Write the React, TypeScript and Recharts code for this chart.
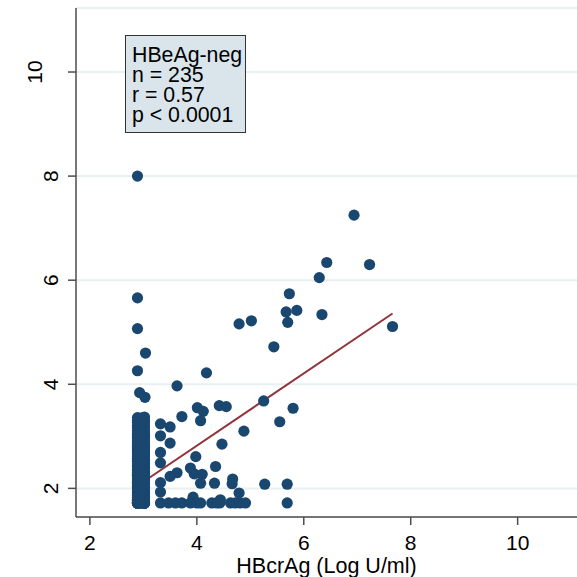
import {
  CartesianGrid,
  ReferenceLine,
  Scatter,
  ScatterChart,
  XAxis,
  YAxis,
} from 'recharts';

// HBcrAg (x) against HBsAg (y), HBeAg-negative group
const columnLow = [
  1.72, 1.72, 1.72, 1.72, 1.72, 1.72, 1.72, 1.72, 1.72, 1.72, 1.74, 1.77,
  1.79, 1.83, 1.86, 1.88, 1.92, 1.95, 1.99, 2.01, 2.04, 2.09, 2.12, 2.14,
  2.18, 2.22, 2.25, 2.27, 2.31, 2.35, 2.37, 2.42, 2.44, 2.47, 2.52, 2.55,
  2.58, 2.61, 2.64, 2.68, 2.71, 2.75, 2.78, 2.81, 2.85, 2.88, 2.91, 2.95,
  2.98, 3.02, 3.06, 3.11, 3.17, 3.21, 3.27, 3.31, 3.36,
];
const columnHigh = [
  1.72, 1.72, 1.72, 1.72, 1.72, 1.72, 1.72, 1.72, 1.72, 1.72, 1.73, 1.76,
  1.8, 1.82, 1.85, 1.89, 1.91, 1.94, 1.97, 2.02, 2.05, 2.07, 2.11, 2.15,
  2.17, 2.21, 2.24, 2.28, 2.3, 2.33, 2.38, 2.41, 2.45, 2.48, 2.51, 2.54,
  2.59, 2.62, 2.66, 2.69, 2.72, 2.74, 2.79, 2.83, 2.86, 2.9, 2.93, 2.97,
  3.0, 3.04, 3.09, 3.14, 3.19, 3.24, 3.29, 3.34, 3.37,
];
const columnMid = [
  1.72, 1.72, 1.72, 1.72, 1.78, 1.87, 1.96, 2.06, 2.19, 2.29, 2.4, 2.53,
  2.63, 2.77, 2.89, 3.03, 3.13, 3.26, 3.35,
];

const spreadX = [
  2.89, 2.89, 2.89, 3.04, 2.89, 2.93, 3.03, 4.18, 4.79, 5.02, 3.63, 4.01,
  4.12, 4.42, 4.55, 3.72, 4.07, 3.32, 3.5, 3.32, 3.5, 4.47, 3.32, 3.32,
  3.98, 4.35, 3.63, 3.5, 3.88, 3.95, 4.1, 4.07, 4.33, 3.32, 3.32, 4.67,
  4.66, 5.27, 5.69, 4.79, 3.93, 4.44, 5.25, 5.8, 5.55, 4.88, 6.94, 6.43,
  6.29, 7.23, 5.73, 5.67, 5.87, 5.7, 6.34, 5.44, 7.66, 5.69, 3.32, 3.47,
  3.6, 3.72, 3.88, 4.0, 4.07, 4.28, 4.37, 4.43, 4.63, 4.72, 4.81, 4.91,
];
const spreadY = [
  8.0, 5.66, 5.07, 4.6, 4.26, 3.84, 3.75, 4.22, 5.16, 5.22, 3.97, 3.55,
  3.48, 3.59, 3.57, 3.38, 3.3, 3.24, 3.18, 3.01, 2.87, 2.85, 2.69, 2.49,
  2.61, 2.42, 2.3, 2.23, 2.39, 2.28, 2.27, 2.1, 2.1, 2.11, 1.93, 2.18,
  2.09, 2.08, 2.08, 1.91, 1.83, 1.78, 3.68, 3.54, 3.28, 3.1, 7.25, 6.34,
  6.05, 6.3, 5.74, 5.39, 5.42, 5.19, 5.34, 4.72, 5.11, 1.72, 1.72, 1.72,
  1.72, 1.72, 1.72, 1.72, 1.72, 1.72, 1.72, 1.72, 1.72, 1.72, 1.72, 1.72,
];

const fitLine = [
  { x: 2.89, y: 2.05 },
  { x: 7.66, y: 5.36 },
];

const xTicks = [2, 4, 6, 8, 10];
const yTicks = [2, 4, 6, 8, 10];
const boxLines = ['HBeAg-neg', 'n = 235', 'r = 0.57', 'p < 0.0001'];

const points = [
  ...columnLow.map((y) => ({ x: 2.89, y })),
  ...columnHigh.map((y) => ({ x: 3.02, y })),
  ...columnMid.map((y) => ({ x: 2.95, y })),
  ...spreadX.map((x, i) => ({ x, y: spreadY[i] })),
];

const FONT = '"Liberation Sans", Arial, Helvetica, sans-serif';
const DOT = '#1a476f';
const FIT = '#90353b';
const AXIS = '#4d4d4d';

const Dot = (props: any) => <circle cx={props.cx} cy={props.cy} r={5.6} fill={DOT} />;

const XTick = ({ x, y, payload }: any) => (
  <text x={x} y={y + 25} textAnchor="middle" fontSize={21} fill="#000" fontFamily={FONT}>
    {payload.value}
  </text>
);

const YTick = ({ x, y, payload }: any) => {
  const label = String(payload.value);
  const bx = x - 9.5 - (label.length - 1) * 16.5;
  return (
    <text
      x={bx}
      y={y}
      transform={`rotate(-90 ${bx} ${y})`}
      textAnchor="middle"
      fontSize={21}
      fill="#000"
      fontFamily={FONT}
    >
      {label}
    </text>
  );
};

export default function App() {
  return (
    <div style={{ position: 'absolute', left: 0, top: 0, width: 577, height: 577, background: '#fff' }}>
      <ScatterChart width={577} height={577} margin={{ top: 8, right: 0, bottom: 0, left: 0 }}>
        <CartesianGrid vertical={false} stroke="#e8f0f2" strokeWidth={2} />
        <XAxis
          type="number"
          dataKey="x"
          domain={[1.74, 11.11]}
          ticks={xTicks}
          allowDataOverflow
          height={60}
          tickSize={8}
          tickMargin={0}
          tick={<XTick />}
          stroke={AXIS}
          strokeWidth={1.5}
          label={{
            value: 'HBcrAg (Log U/ml)',
            position: 'insideBottom',
            offset: 4,
            fontSize: 21.5,
            fill: '#000',
            fontFamily: FONT,
          }}
        />
        <YAxis
          type="number"
          dataKey="y"
          domain={[1.45, 11.23]}
          ticks={yTicks}
          allowDataOverflow
          width={76}
          tickSize={8}
          tickMargin={0}
          tick={<YTick />}
          stroke={AXIS}
          strokeWidth={1.5}
        />
        <Scatter data={points} shape={<Dot />} isAnimationActive={false} />
        <ReferenceLine segment={fitLine} stroke={FIT} strokeWidth={2} />
      </ScatterChart>
      <svg width={577} height={577} style={{ position: 'absolute', left: 0, top: 0, pointerEvents: 'none' }}>
        <rect x={125.5} y={35.5} width={120} height={97} fill="#d9e5eb" stroke="#333" strokeWidth={1} />
        {boxLines.map((line, i) => (
          <text key={line} x={132} y={62 + i * 20} fontSize={21.3} fill="#000" fontFamily={FONT}>
            {line}
          </text>
        ))}
      </svg>
    </div>
  );
}
